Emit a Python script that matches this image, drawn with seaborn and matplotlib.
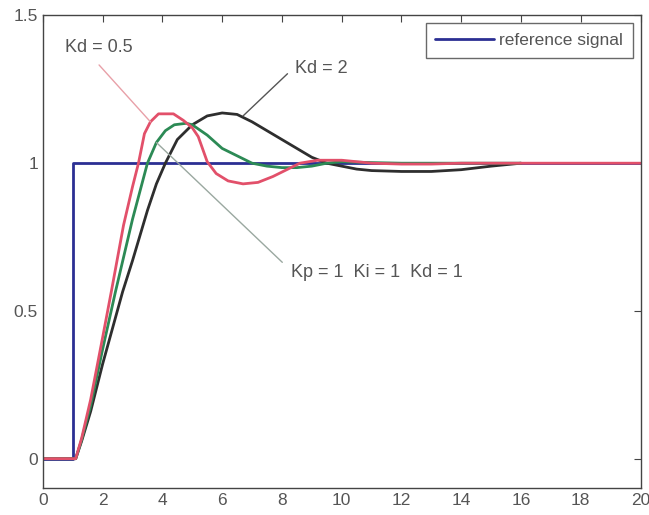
import numpy as np
import pandas as pd
import seaborn as sns
import matplotlib.pyplot as plt

sns.set_style("white")
plt.rcParams['font.family'] = ['Liberation Sans', 'DejaVu Sans']

# reference step
t_ref = [0, 1, 1, 20]
y_ref = [0, 0, 1, 1]

# Kd = 0.5 (red)
t_red = [0, 1.0, 1.1, 1.3, 1.6, 2.0, 2.3, 2.7, 3.0, 3.2, 3.4, 3.6, 3.87, 4.37, 4.7, 5.0, 5.2,
         5.5, 5.8, 6.2, 6.7, 7.2, 7.7, 8.2, 8.6, 9.2, 10.0, 11.0, 12.0, 13.0, 14.0, 16.0, 20.0]
y_red = [0, 0, 0.0, 0.07, 0.2, 0.41, 0.57, 0.79, 0.92, 1.0, 1.1, 1.14, 1.167, 1.167, 1.145, 1.12, 1.09,
         1.005, 0.965, 0.94, 0.93, 0.935, 0.955, 0.98, 1.0, 1.01, 1.01, 1.0, 0.997, 0.997, 1.0, 1.0, 1.0]

# Kd = 1 (green)
t_grn = [0, 1.0, 1.1, 1.3, 1.6, 2.0, 2.43, 3.0, 3.5, 3.8, 4.1, 4.4, 4.8, 5.0, 5.5, 6.0, 6.5,
         7.0, 7.5, 8.0, 8.5, 9.0, 9.5, 10.0, 11.0, 12.0, 14.0, 16.0]
y_grn = [0, 0, 0.0, 0.065, 0.18, 0.37, 0.565, 0.81, 1.0, 1.07, 1.11, 1.13, 1.135, 1.13, 1.095, 1.05, 1.025,
         1.0, 0.99, 0.985, 0.985, 0.99, 1.0, 1.005, 1.002, 1.0, 1.0, 1.0]

# Kd = 2 (black)
t_blk = [0, 1.0, 1.1, 1.3, 1.6, 2.0, 2.67, 3.0, 3.5, 3.8, 4.1, 4.5, 5.0, 5.5, 6.0, 6.5, 7.0,
         7.5, 8.0, 8.5, 9.0, 9.5, 10.0, 10.5, 11.0, 12.0, 13.0, 14.0, 15.0, 16.0]
y_blk = [0, 0, 0.0, 0.06, 0.16, 0.32, 0.565, 0.67, 0.84, 0.93, 1.0, 1.08, 1.13, 1.16, 1.17, 1.165, 1.14,
         1.11, 1.08, 1.05, 1.02, 1.0, 0.99, 0.98, 0.975, 0.972, 0.972, 0.978, 0.99, 1.0]

x_ticks = [0, 2, 4, 6, 8, 10, 12, 14, 16, 18, 20]
y_ticks = [0, 0.5, 1, 1.5]
y_tick_labels = ["0", "0.5", "1", "1.5"]

fig = plt.figure(figsize=(6.49, 5.15), dpi=100)
ax = fig.add_axes([0.066, 0.052, 0.921, 0.918])

sns.lineplot(x=t_ref, y=y_ref, color="#2b2f93", linewidth=2, estimator=None, sort=False,
             label="reference signal", ax=ax)
sns.lineplot(x=t_blk, y=y_blk, color="#2e2e2e", linewidth=2, estimator=None, sort=False, ax=ax)
sns.lineplot(x=t_grn, y=y_grn, color="#2c8a55", linewidth=2, estimator=None, sort=False, ax=ax)
sns.lineplot(x=t_red, y=y_red, color="#e2506a", linewidth=2, estimator=None, sort=False, ax=ax)

# annotations
txt_col = "#555555"
ax.annotate("Kd = 0.5", xy=(3.6, 1.14), xytext=(0.75, 1.39), fontsize=13, color=txt_col,
            va="center",
            arrowprops=dict(arrowstyle="-", color="#e8a0a8", lw=1, shrinkA=0, shrinkB=0,
                            relpos=(0.5, -0.5), patchA=None))
ax.annotate("Kd = 2", xy=(6.7, 1.16), xytext=(8.45, 1.32), fontsize=13, color=txt_col,
            va="center",
            arrowprops=dict(arrowstyle="-", color="#555555", lw=1, shrinkA=0, shrinkB=0,
                            relpos=(-0.15, 0.2), patchA=None))
ax.annotate("Kp = 1  Ki = 1  Kd = 1", xy=(3.8, 1.07), xytext=(8.3, 0.63), fontsize=13,
            color=txt_col, va="center",
            arrowprops=dict(arrowstyle="-", color="#9aa8a0", lw=1, shrinkA=0, shrinkB=0,
                            relpos=(-0.05, 1.1), patchA=None))

ax.set_xlim(0, 20)
ax.set_ylim(-0.1, 1.5)
ax.set_xticks(x_ticks)
ax.set_yticks(y_ticks)
ax.set_yticklabels(y_tick_labels)
ax.tick_params(direction="in", top=True, right=True, length=5, labelsize=12.5,
               colors="#444444", labelcolor="#555555")
for s in ax.spines.values():
    s.set_color("#444444")
    s.set_linewidth(1)

leg = ax.legend(loc="upper right", fontsize=12.5, frameon=True, fancybox=False,
                handlelength=3.4, handletextpad=0.3, borderpad=0.55, borderaxespad=0.45)
leg.get_frame().set_edgecolor("#444444")
leg.get_frame().set_linewidth(1)
for t in leg.get_texts():
    t.set_color(txt_col)

fig.savefig("out.png", dpi=100)
